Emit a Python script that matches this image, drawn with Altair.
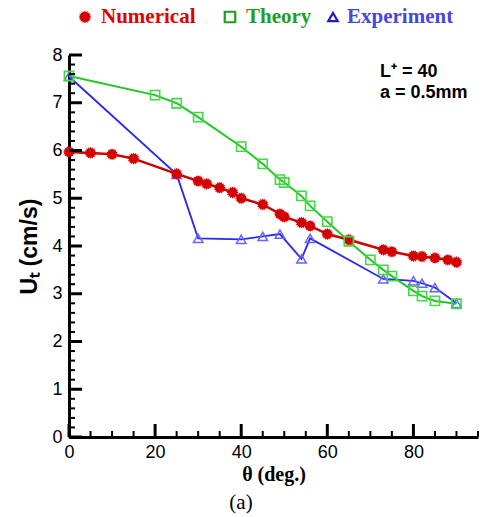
import math
import altair as alt
import pandas as pd

# ---------------- data ----------------
num_theta = [0, 5, 10, 15, 25, 30, 32, 35, 38, 40, 45, 49, 50, 54, 56, 60, 65, 73, 75, 80, 82, 85, 88, 90]
num_u = [5.97, 5.95, 5.92, 5.83, 5.51, 5.36, 5.30, 5.22, 5.12, 5.00, 4.87, 4.67, 4.61, 4.49, 4.42,
         4.25, 4.13, 3.92, 3.88, 3.79, 3.78, 3.75, 3.71, 3.66]

th_theta = [0, 20, 25, 30, 40, 45, 49, 50, 54, 56, 60, 65, 70, 73, 75, 80, 82, 85, 90]
th_u = [7.56, 7.16, 6.99, 6.70, 6.08, 5.72, 5.39, 5.33, 5.05, 4.84, 4.51, 4.10, 3.71, 3.50, 3.37,
        3.06, 2.95, 2.85, 2.79]

ex_theta = [0, 25, 30, 40, 45, 49, 54, 56, 73, 80, 82, 85, 90]
ex_u = [7.55, 5.50, 4.16, 4.14, 4.20, 4.25, 3.73, 4.16, 3.31, 3.27, 3.22, 3.13, 2.80]

x_major = [0, 20, 40, 60, 80]
x_minor = [5, 10, 15, 25, 30, 35, 45, 50, 55, 65, 70, 75, 85, 90, 95]
y_major = [0, 1, 2, 3, 4, 5, 6, 7, 8]
y_minor = [round(i * 0.2, 1) for i in range(41) if i % 5 != 0]

legend_labels = ["Numerical", "Theory", "Experiment"]
annot_lines = ["L\u207a = 40", "a = 0.5mm"]

# ---------------- layout ----------------
W, H = 409, 382
xs = alt.Scale(domain=[0, 95], nice=False, zero=False)
ys = alt.Scale(domain=[0, 8], nice=False, zero=False)

RED, RED_M = "#cc0000", "#d40000"
GREEN, GREEN_M = "#22c822", "#44d844"
BLUE, BLUE_M = "#2828f0", "#6464ff"


def star_path(n=16, r1=1.0, r0=0.74):
    pts = []
    for i in range(2 * n):
        r = r1 if i % 2 == 0 else r0
        a = math.pi * i / n
        pts.append(f"{r * math.sin(a):.3f},{-r * math.cos(a):.3f}")
    return "M" + "L".join(pts) + "Z"


STAR = star_path()

num_df = pd.DataFrame({"theta": num_theta, "u": num_u})
th_df = pd.DataFrame({"theta": th_theta, "u": th_u})
ex_df = pd.DataFrame({"theta": ex_theta, "u": ex_u})

x_axis = alt.Axis(values=x_major, title="θ (deg.)", ticks=False, grid=False,
                  domainWidth=3, domainColor="black", labelFont="Liberation Sans",
                  labelFontSize=18, labelColor="black", labelPadding=6, labelFlush=False,
                  titleFont="Liberation Serif", titleFontWeight="bold", titleFontSize=20,
                  titleColor="black", titlePadding=3)
y_axis = alt.Axis(values=y_major, title="Uₜ (cm/s)", ticks=False, grid=False,
                  domainWidth=3, domainColor="black", labelFont="Liberation Sans",
                  labelFontSize=18, labelColor="black", labelPadding=7, labelFlush=False,
                  titleFont="Liberation Sans", titleFontWeight="bold", titleFontSize=23,
                  titleColor="black", titlePadding=10)

X = alt.X("theta:Q", scale=xs, axis=x_axis)
Y = alt.Y("u:Q", scale=ys, axis=y_axis)

ex_line = alt.Chart(ex_df).mark_line(color=BLUE, strokeWidth=1.8).encode(x=X, y=Y)
num_line = alt.Chart(num_df).mark_line(color=RED, strokeWidth=2.5).encode(x=X, y=Y)
th_line = alt.Chart(th_df).mark_line(color=GREEN, strokeWidth=2).encode(x=X, y=Y)

ex_pts = alt.Chart(ex_df).mark_point(shape="triangle-up", filled=False, color=BLUE_M, size=90,
                                     strokeWidth=1.5, opacity=1).encode(x=X, y=Y)
num_pts = alt.Chart(num_df).mark_point(shape=STAR, filled=True, color=RED_M, size=150,
                                       opacity=1).encode(x=X, y=Y)
th_pts = alt.Chart(th_df).mark_point(shape="square", filled=False, color=GREEN_M, size=85,
                                     strokeWidth=1.6, opacity=1).encode(x=X, y=Y)

# tick marks (inside)
ymaj = alt.Chart(pd.DataFrame({"u": y_major})).mark_rule(color="black", strokeWidth=3).encode(
    y=Y, x=alt.value(0), x2=alt.value(13))
ymin = alt.Chart(pd.DataFrame({"u": y_minor})).mark_rule(color="black", strokeWidth=2).encode(
    y=Y, x=alt.value(0), x2=alt.value(6))
xmaj = alt.Chart(pd.DataFrame({"theta": x_major})).mark_rule(color="black", strokeWidth=3).encode(
    x=X, y=alt.value(H), y2=alt.value(H - 13))
xmin = alt.Chart(pd.DataFrame({"theta": x_minor})).mark_rule(color="black", strokeWidth=2).encode(
    x=X, y=alt.value(H), y2=alt.value(H - 6))

# annotation
one = pd.DataFrame({"a": [0]})
ann1 = alt.Chart(one).mark_text(text=annot_lines[0], font="Liberation Sans", fontWeight="bold",
                                fontSize=18, align="left", baseline="alphabetic", color="black").encode(
    x=alt.value(311), y=alt.value(22))
ann2 = alt.Chart(one).mark_text(text=annot_lines[1], font="Liberation Sans", fontWeight="bold",
                                fontSize=18, align="left", baseline="alphabetic", color="black").encode(
    x=alt.value(311), y=alt.value(43))

# "(a)"
cap = alt.Chart(one).mark_text(text="(a)", font="Liberation Serif", fontSize=21, align="center",
                               baseline="middle", color="black").encode(x=alt.value(172), y=alt.value(448))

# legend
LY = -38
leg_num_m = alt.Chart(one).mark_point(shape=STAR, filled=True, color=RED_M, size=170, opacity=1).encode(
    x=alt.value(16), y=alt.value(LY))
leg_th_m = alt.Chart(one).mark_point(shape="square", filled=False, color="#1f9f1f", size=110,
                                     strokeWidth=2.2, opacity=1).encode(x=alt.value(161), y=alt.value(LY))
leg_ex_m = alt.Chart(one).mark_point(shape="triangle-up", filled=False, color="#2020c0", size=90,
                                     strokeWidth=2.2, opacity=1).encode(x=alt.value(264), y=alt.value(LY))


def leg_text(label, color, x):
    return alt.Chart(one).mark_text(text=label, font="Liberation Serif", fontWeight="bold", fontSize=21,
                                    align="left", baseline="middle", color=color).encode(
        x=alt.value(x), y=alt.value(LY))


leg_t1 = leg_text(legend_labels[0], "#e00000", 32)
leg_t2 = leg_text(legend_labels[1], "#1f9f1f", 177)
leg_t3 = leg_text(legend_labels[2], "#4848d8", 278)

chart = alt.layer(
    ex_line, num_line, th_line, ex_pts, num_pts, th_pts,
    ymaj, ymin, xmaj, xmin, ann1, ann2, cap,
    leg_num_m, leg_th_m, leg_ex_m, leg_t1, leg_t2, leg_t3,
).properties(
    width=W, height=H,
    autosize=alt.AutoSizeParams(type="none"),
    padding={"left": 69, "top": 55, "right": 8, "bottom": 80},
    background="white",
).configure_view(stroke=None)

chart.save("out.html", embed_options={"renderer": "svg", "actions": False})
